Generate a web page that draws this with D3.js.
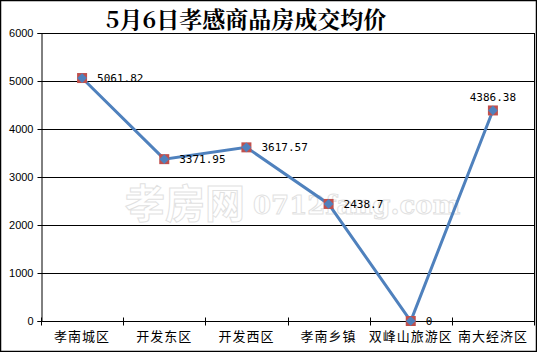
<!DOCTYPE html>
<html>
<head>
<meta charset="utf-8">
<script src="https://cdn.jsdelivr.net/npm/d3@7"></script>
<style>
  html, body { margin: 0; padding: 0; background: #fff; }
  svg { display: block; }
</style>
</head>
<body>
<div id="chart"></div>
<script>
// 5月6日孝感商品房成交均价 — line chart
const title = '5月6日孝感商品房成交均价';
const categories = ['孝南城区', '开发东区', '开发西区', '孝南乡镇', '双峰山旅游区', '南大经济区'];
const values = [5061.82, 3371.95, 3617.57, 2438.7, 0, 4386.38];
const labels = ['5061.82', '3371.95', '3617.57', '2438.7', '0', '4386.38'];
const yTicks = [0, 1000, 2000, 3000, 4000, 5000, 6000];

const W = 537, H = 352;
const margin = { top: 33, right: 3, bottom: 31, left: 41 };
const iw = W - margin.left - margin.right;
const ih = H - margin.top - margin.bottom;

const svg = d3.select('#chart').append('svg').attr('width', W).attr('height', H);

// outer frame
svg.append('rect')
  .attr('x', 0.5).attr('y', 0.5).attr('width', W - 1).attr('height', H - 1)
  .attr('fill', '#fff').attr('stroke', '#000').attr('stroke-width', 1.5);

svg.append('text')
  .attr('x', 246).attr('y', 28)
  .attr('text-anchor', 'middle')
  .attr('font-family', '"Noto Serif CJK SC", "Noto Sans CJK SC", serif')
  .attr('font-weight', 'bold')
  .attr('font-size', 23)
  .attr('fill', '#000')
  .text(title);

const g = svg.append('g').attr('transform', `translate(${margin.left},${margin.top})`);

const x = d3.scaleBand().domain(categories).range([0, iw]).padding(0);
const y = d3.scaleLinear().domain([0, 6000]).range([ih, 0]);

// watermark
const wm = g.append('g').attr('opacity', 0.35);
wm.append('text')
  .attr('x', 84).attr('y', 185)
  .attr('font-family', '"Noto Sans CJK SC", sans-serif')
  .attr('font-size', 40).attr('font-weight', 'bold')
  .attr('fill', '#fff').attr('stroke', '#aaa').attr('stroke-width', 1)
  .text('孝房网');
wm.append('text')
  .attr('x', 212).attr('y', 181)
  .attr('font-family', '"DejaVu Serif", serif')
  .attr('font-size', 26).attr('font-weight', 'bold')
  .attr('fill', '#fff').attr('stroke', '#aaa').attr('stroke-width', 1)
  .text('0712fang.com');

// gridlines
g.append('g')
  .selectAll('line').data(yTicks.filter(d => d > 0)).join('line')
  .attr('x1', 0).attr('x2', iw)
  .attr('y1', d => Math.round(y(d)) + 0.5).attr('y2', d => Math.round(y(d)) + 0.5)
  .attr('stroke', '#000').attr('stroke-width', 1);

// right edge of plot
g.append('line')
  .attr('x1', iw + 0.5).attr('x2', iw + 0.5).attr('y1', 0).attr('y2', ih)
  .attr('stroke', '#000');

// y axis
const yAxis = g.append('g')
  .attr('transform', 'translate(0.5,0)')
  .call(d3.axisLeft(y).tickValues(yTicks).tickSize(4).tickPadding(4).tickFormat(d3.format('d')));
yAxis.select('.domain').attr('stroke', '#000');
yAxis.selectAll('.tick line').attr('stroke', '#000');
yAxis.selectAll('text')
  .attr('font-family', '"Liberation Sans", Arial, sans-serif')
  .attr('font-size', 11).attr('fill', '#000');

// x axis with boundary ticks
const xAxis = g.append('g').attr('transform', `translate(0,${ih + 0.5})`);
xAxis.append('line').attr('x1', 0).attr('x2', iw).attr('stroke', '#000');
xAxis.selectAll('.bt').data(d3.range(categories.length + 1)).join('line')
  .attr('class', 'bt')
  .attr('x1', i => Math.round(i * x.bandwidth()) + 0.5)
  .attr('x2', i => Math.round(i * x.bandwidth()) + 0.5)
  .attr('y1', -4).attr('y2', 4)
  .attr('stroke', '#000');
xAxis.selectAll('text').data(categories).join('text')
  .attr('x', d => x(d) + x.bandwidth() / 2)
  .attr('y', 19)
  .attr('text-anchor', 'middle')
  .attr('font-family', '"Noto Sans CJK SC", sans-serif')
  .attr('font-size', 13)
  .attr('letter-spacing', 1)
  .attr('fill', '#000')
  .text(d => d);

const cx = (d, i) => x(categories[i]) + x.bandwidth() / 2;

// line
g.append('path')
  .datum(values)
  .attr('fill', 'none')
  .attr('stroke', '#4F81BD')
  .attr('stroke-width', 3)
  .attr('d', d3.line().x((d, i) => cx(d, i)).y(d => y(d)));

// markers: red square under blue diamond
g.selectAll('.sq').data(values).join('rect')
  .attr('class', 'sq')
  .attr('x', (d, i) => cx(d, i) - 5).attr('y', d => y(d) - 5)
  .attr('width', 10).attr('height', 10)
  .attr('fill', '#C0504D');
g.selectAll('.dm').data(values).join('path')
  .attr('class', 'dm')
  .attr('transform', (d, i) => `translate(${cx(d, i)},${y(d)})`)
  .attr('d', d3.symbol(d3.symbolDiamond2, 60))
  .attr('fill', '#4F81BD');

// data labels
g.selectAll('.lbl').data(values).join('text')
  .attr('class', 'lbl')
  .attr('x', (d, i) => i === values.length - 1 ? cx(d, i) : cx(d, i) + 15)
  .attr('y', (d, i) => i === values.length - 1 ? y(d) - 9 : y(d) + 4)
  .attr('text-anchor', (d, i) => i === values.length - 1 ? 'middle' : 'start')
  .attr('font-family', '"DejaVu Sans Mono", monospace')
  .attr('font-size', 11)
  .attr('fill', '#000')
  .text((d, i) => labels[i]);
</script>
</body>
</html>
